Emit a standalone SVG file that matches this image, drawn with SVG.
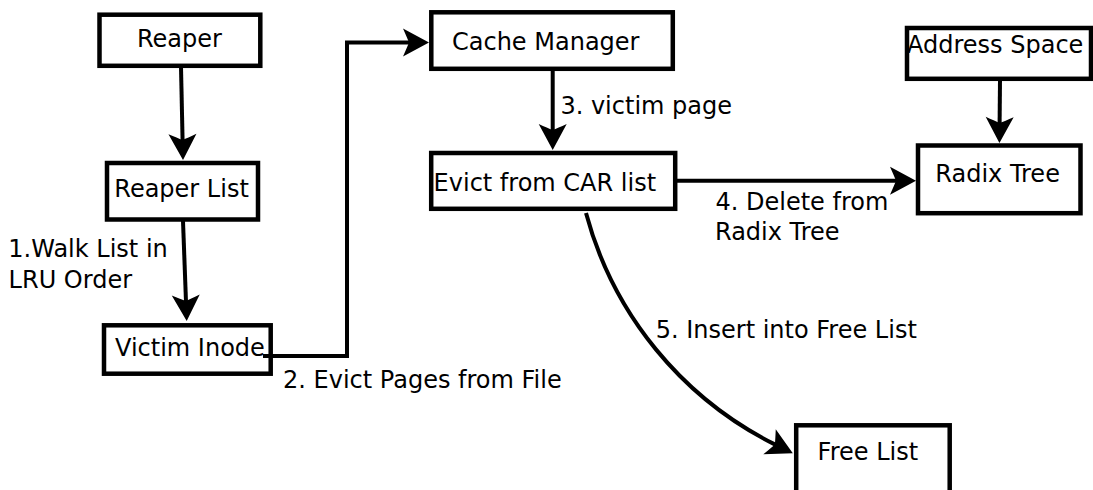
<svg xmlns="http://www.w3.org/2000/svg" width="1093" height="490" viewBox="0 0 1093 490">
  <style>
    .box { fill: #ffffff; stroke: #000000; stroke-width: 4.5; }
    .lbl { font-family: "DejaVu Sans", "Liberation Sans", sans-serif; font-size: 24px; fill: #000000; }
    .edge { fill: none; stroke: #000000; stroke-width: 4; }
  </style>
  <defs>
    <!-- filled concave arrowhead; tip sits 20px past the end of the line -->
    <marker id="arrow" markerUnits="userSpaceOnUse" viewBox="-28 -16 30 32" markerWidth="30" markerHeight="32" refX="-19" refY="0" orient="auto">
      <path d="M0,0 L-26,-14 Q-22,-5 -20,0 Q-22,5 -26,14 Z" fill="#000000"/>
    </marker>
  </defs>

  <rect width="1093" height="490" fill="#ffffff"/>

  <!-- connectors -->
  <g id="connectors">
    <path class="edge" d="M181 67 L182.6 141" marker-end="url(#arrow)"/>
    <path class="edge" d="M183 221 L186 302" marker-end="url(#arrow)"/>
    <path class="edge" d="M263 356 H347 V42.5 H410" marker-end="url(#arrow)"/>
    <path class="edge" d="M552.7 70 V131" marker-end="url(#arrow)"/>
    <path class="edge" d="M677 180.7 H897" marker-end="url(#arrow)"/>
    <path class="edge" d="M1000 80 L999.6 124" marker-end="url(#arrow)"/>
    <path class="edge" d="M586 213 A364 364 0 0 0 775.8 444.9" marker-end="url(#arrow)"/>
    <text class="lbl" x="8.3" y="256.7">1.Walk List in</text>
    <text class="lbl" x="8.6" y="288.3">LRU Order</text>
    <text class="lbl" x="283" y="387.7">2. Evict Pages from File</text>
    <text class="lbl" x="560.4" y="114.3">3. victim page</text>
    <text class="lbl" x="715.5" y="210">4. Delete from</text>
    <text class="lbl" x="715" y="240">Radix Tree</text>
    <text class="lbl" x="655.7" y="338">5. Insert into Free List</text>
  </g>

  <!-- nodes -->
  <g id="reaper">
    <rect class="box" x="99.5" y="14.7" width="160.8" height="51.1"/>
    <text class="lbl" x="137" y="47.3">Reaper</text>
  </g>
  <g id="reaper-list">
    <rect class="box" x="107" y="163" width="151" height="56.5"/>
    <text class="lbl" x="114.3" y="197">Reaper List</text>
  </g>
  <g id="victim-inode">
    <rect class="box" x="104" y="325.3" width="166.7" height="48.4"/>
    <text class="lbl" x="115" y="356">Victim Inode</text>
  </g>
  <g id="cache-manager">
    <rect class="box" x="431.3" y="12.3" width="241.5" height="56.5"/>
    <text class="lbl" x="452" y="50">Cache Manager</text>
  </g>
  <g id="evict-car">
    <rect class="box" x="431.2" y="153" width="244" height="55.8"/>
    <text class="lbl" x="433.6" y="190.7">Evict from CAR list</text>
  </g>
  <g id="address-space">
    <rect class="box" x="907" y="28" width="184" height="50.8"/>
    <text class="lbl" x="907" y="53.3">Address Space</text>
  </g>
  <g id="radix-tree">
    <rect class="box" x="918" y="145.5" width="162.5" height="67.7"/>
    <text class="lbl" x="935.3" y="181.7">Radix Tree</text>
  </g>
  <g id="free-list">
    <rect class="box" x="796.2" y="425.3" width="153.5" height="70"/>
    <text class="lbl" x="817.6" y="460">Free List</text>
  </g>

  <!-- this segment runs over the Victim Inode border -->
  <path class="edge" d="M263 356 H272"/>
</svg>
